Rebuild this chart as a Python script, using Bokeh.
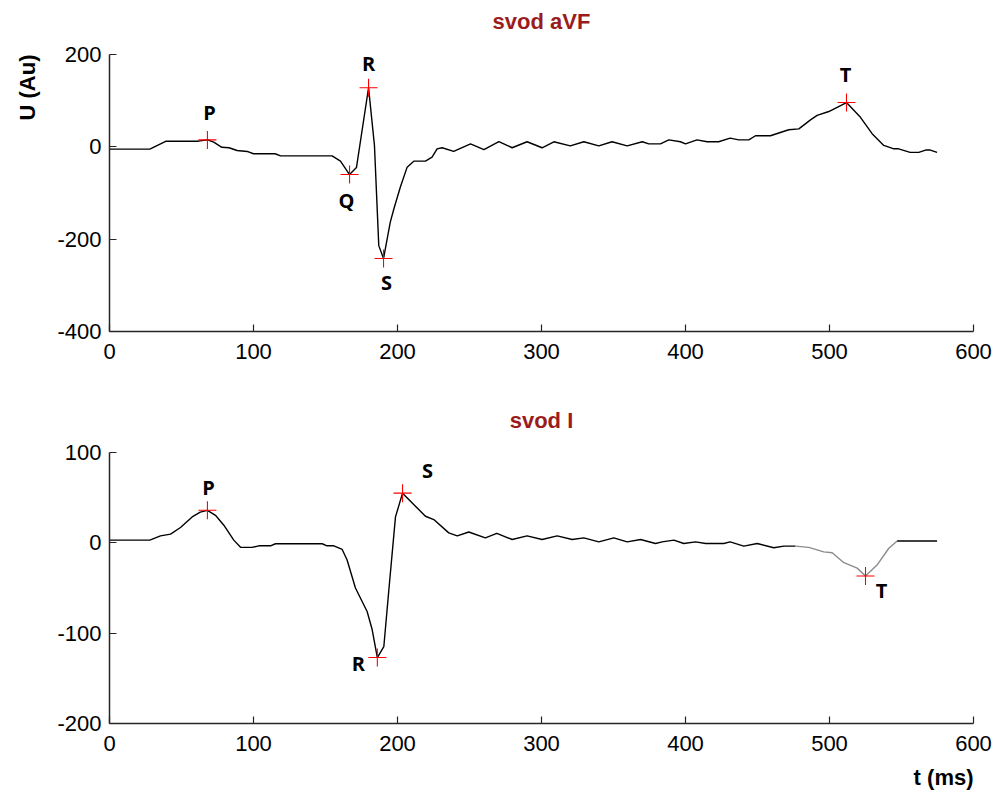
from bokeh.plotting import figure
from bokeh.models import Range1d, FixedTicker, ColumnDataSource, Title
from bokeh.layouts import column
from bokeh.core.properties import value
from bokeh.embed import file_html
from bokeh.resources import INLINE

# ---------------- data ----------------
# lead aVF (time in ms, amplitude in Au)
avf_t = [0, 28, 39, 61, 63, 68, 72.4, 78, 83, 88.6, 95.6, 100, 115, 118.8, 154.6, 160.4,
         166.7, 171.5, 179.9, 184, 187, 190.3, 195, 197.5, 202, 206.7, 211.3, 219.4, 224,
         227.5, 231, 239, 250.7, 260, 270.4, 279.6, 290, 300.4, 308.6, 320, 329.4, 339.8,
         349, 359.5, 370, 374.5, 382.6, 388.4, 396.5, 400, 408, 415, 423, 431, 437, 444,
         448.6, 459, 471.7, 478.7, 486.8, 491.4, 499.5, 511.8, 521.5, 529.6, 537.7, 544.7,
         548, 556, 562, 566.7, 570, 574.7]
avf_u = [-5, -5, 12, 12, 13, 15, 10, -1, -2, -8, -10, -15, -15, -19.5, -19.5, -31,
         -60, -45, 128, 3, -214, -242, -163, -134, -87, -44, -31, -31, -22.5,
         -4.3, -2, -10, 6.5, -6, 11.5, -2, 11, -2, 11, 2, 11, 2,
         11, 2, 11, 6.5, 6.5, 15, 11, 6.5, 15, 11, 11, 19, 15, 15,
         24, 24, 37, 39, 58.5, 68, 76.5, 96, 64, 28.5, 3, -4.3,
         -4.3, -12, -12, -7, -7, -12]

# lead I
lead1_t = [0, 28, 35.4, 42.4, 49.3, 57.4, 63, 68, 73.6, 79.4, 86.3, 91, 99, 103.7, 111.8,
           115.3, 147.7, 151, 155.8, 161.6, 165, 170.8, 178.9, 182.4, 186, 190.5, 194, 198.6,
           203.5, 219.4, 225.2, 235.6, 241.5, 249.5, 261, 269, 279.6, 290, 300.4, 310.9,
           321.3, 329.4, 339.8, 350.2, 359.5, 368.8, 379.2, 383.8, 391.9, 398.8, 407, 414,
           426.6, 431, 440.5, 449.8, 461.3, 468.3, 476.4, 485.6, 496, 501.9, 510, 519.2,
           525, 533, 541.2, 547, 574.7]
lead1_u = [3, 3, 7.7, 9.6, 17, 28.7, 34, 36, 30.5, 19.5, 3, -5, -5, -3.3, -3.3,
           -1, -1, -3.3, -3.3, -7.3, -19, -50, -76, -96, -127, -115, -52, 28.7,
           55, 29.4, 25.8, 11, 7.7, 12, 5.5, 10.4, 3.7, 7.7, 3.7, 7.7,
           3.7, 5.5, 1, 5.5, 1, 3.7, -0.7, 1, 3, -0.7, 1, -0.7,
           -0.7, 1, -3.6, -0.7, -5.5, -3.6, -3.6, -5, -10, -11, -22, -28,
           -36.7, -24.6, -6, 2, 2]
lead1_gray_from = 476.4   # T-wave segment drawn in gray
lead1_gray_to = 547

# fiducial points
avf_pts = ["P", "Q", "R", "S", "T"]
avf_pts_t = [68, 166.7, 179.9, 190.3, 511.8]
avf_pts_u = [15, -60, 128, -242, 96]

lead1_pts = ["P", "R", "S", "T"]
lead1_pts_t = [68, 186, 203.5, 525]
lead1_pts_u = [36, -127, 55, -36.7]

x_ticks = [0, 100, 200, 300, 400, 500, 600]
avf_y_ticks = [-400, -200, 0, 200]
lead1_y_ticks = [-200, -100, 0, 100]

titles = ["svod aVF", "svod I"]
y_label = "U (Au)"
x_label = "t (ms)"

# ---------------- styling ----------------
# label offsets in pixels (dx, dy; dy positive = down)
avf_dx = [2, -3, 0, 3, -1]
avf_dy = [-27, 26, -24, 24, -28]
lead1_dx = [1, -19, 25, 16]
lead1_dy = [-23, 6, -23, 15]

TICK_FONT = "Liberation Sans"
MARK_FONT = "Open Sans"
TITLE_COLOR = "#9b1c1c"
AXIS_COLOR = "#262626"


def make_fig(height, y0, y1, yticks, bt, bb):
    p = figure(width=999, height=height, output_backend="svg", toolbar_location=None,
               x_range=Range1d(0, 600), y_range=Range1d(y0, y1),
               min_border_left=109, min_border_right=26,
               min_border_top=bt, min_border_bottom=bb)
    p.outline_line_color = None
    p.xgrid.visible = False
    p.ygrid.visible = False
    p.background_fill_color = "white"
    p.border_fill_color = "white"
    for ax in (p.xaxis[0], p.yaxis[0]):
        ax.axis_line_color = AXIS_COLOR
        ax.axis_line_width = 1.5
        ax.major_tick_line_color = AXIS_COLOR
        ax.major_tick_line_width = 1.2
        ax.major_tick_in = 7
        ax.major_tick_out = 0
        ax.minor_tick_line_color = None
        ax.major_label_text_font = TICK_FONT
        ax.major_label_text_font_size = "22px"
        ax.major_label_text_color = "black"
    p.xaxis[0].ticker = FixedTicker(ticks=x_ticks)
    p.yaxis[0].ticker = FixedTicker(ticks=yticks)
    p.xaxis[0].major_label_overrides = {t: str(t) for t in x_ticks}
    p.yaxis[0].major_label_overrides = {t: str(t) for t in yticks}
    p.xaxis[0].major_label_standoff = 12
    p.yaxis[0].major_label_standoff = 8
    return p


def add_points(p, names, ts, us, dx, dy):
    src = ColumnDataSource(dict(t=ts, u=us, name=names, dx=dx, dy=dy))
    p.scatter("t", "u", source=src, marker="cross", size=18,
              line_color="#ff0000", line_width=1.1)
    p.text("t", "u", text="name", source=src, x_offset="dx", y_offset="dy",
           text_font=value(MARK_FONT), text_font_style="bold",
           text_font_size="20px", text_align="center", text_baseline="middle",
           text_color="black")


def set_title(p, text, standoff, valign):
    p.title.text = text
    p.title.align = "center"
    p.title.vertical_align = valign
    p.title.text_font = TICK_FONT
    p.title.text_font_style = "bold"
    p.title.text_font_size = "22px"
    p.title.text_color = TITLE_COLOR
    p.title.standoff = standoff


# ---- top: aVF ----  (negative top margin lets the title sit higher)
p1 = make_fig(388, -400, 200, avf_y_ticks, 66, 45)
p1.margin = (-12, 0, 0, 0)
p1.line(avf_t, avf_u, line_color="black", line_width=1.4)
add_points(p1, avf_pts, avf_pts_t, avf_pts_u, avf_dx, avf_dy)
set_title(p1, titles[0], 38, "top")
p1.add_layout(Title(text=y_label, align="right", vertical_align="top",
                    text_font=TICK_FONT, text_font_style="bold",
                    text_font_size="22px", text_color="black",
                    standoff=26, offset=0), "left")

# ---- bottom: lead I ----
p2 = make_fig(422, -200, 100, lead1_y_ticks, 76, 74)
idx_a = [i for i, t in enumerate(lead1_t) if t <= lead1_gray_from]
idx_g = [i for i, t in enumerate(lead1_t) if lead1_gray_from <= t <= lead1_gray_to]
idx_b = [i for i, t in enumerate(lead1_t) if t >= lead1_gray_to]
p2.line([lead1_t[i] for i in idx_a], [lead1_u[i] for i in idx_a],
        line_color="black", line_width=1.4)
p2.line([lead1_t[i] for i in idx_g], [lead1_u[i] for i in idx_g],
        line_color="#8c8c8c", line_width=1.4)
p2.line([lead1_t[i] for i in idx_b], [lead1_u[i] for i in idx_b],
        line_color="black", line_width=1.4)
add_points(p2, lead1_pts, lead1_pts_t, lead1_pts_u, lead1_dx, lead1_dy)
set_title(p2, titles[1], 40, "bottom")
p2.add_layout(Title(text=x_label, align="right", text_font=TICK_FONT,
                    text_font_style="bold", text_font_size="22px",
                    text_color="black", standoff=18, offset=0), "below")

layout = column(p1, p2)
open("out.html", "w").write(file_html(layout, INLINE))
